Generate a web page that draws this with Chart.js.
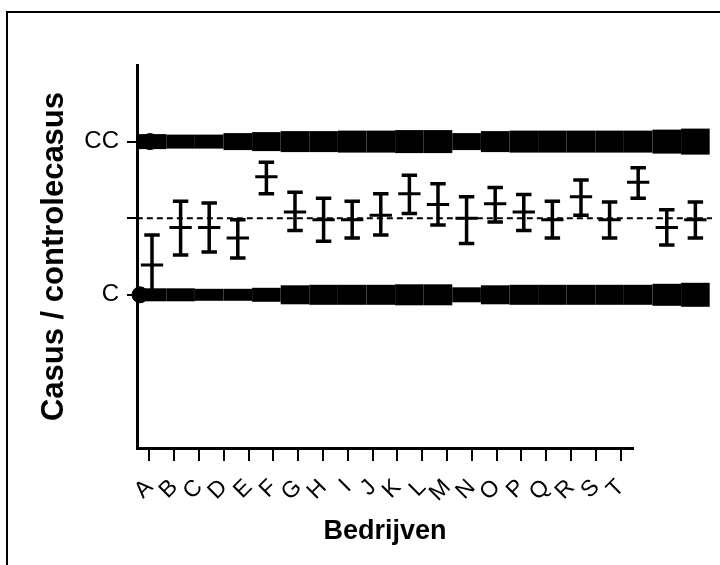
<!DOCTYPE html>
<html lang="nl">
<head>
  <meta charset="UTF-8">
  <title>Casus / controlecasus per bedrijf</title>
  <script src="https://cdn.jsdelivr.net/npm/chart.js"></script>
  <style>
    html, body { margin: 0; padding: 0; background: #fff; overflow: hidden; }
    #kader { position: absolute; left: 6px; top: 11px; width: 800px; height: 700px;
             border-left: 2px solid #000; border-top: 2px solid #000; }
    #grafiek { position: absolute; left: 0; top: 0; }
  </style>
</head>
<body>
  <div id="kader"></div>
  <canvas id="grafiek" width="720" height="565"></canvas>

  <script>
    // Bedrijven (x-as)
    const bedrijven = ['A', 'B', 'C', 'D', 'E', 'F', 'G', 'H', 'I', 'J',
                       'K', 'L', 'M', 'N', 'O', 'P', 'Q', 'R', 'S', 'T'];

    // Gemiddelde en foutbalk per bedrijf (C = 0, CC = 1)
    const gemiddelde = [0.195, 0.44, 0.44, 0.37, 0.77, 0.54, 0.49, 0.49, 0.52, 0.66,
                        0.59, 0.50, 0.595, 0.54, 0.49, 0.64, 0.49, 0.735, 0.44, 0.49];
    const ondergrens = [0.00, 0.26, 0.28, 0.24, 0.66, 0.42, 0.35, 0.37, 0.39, 0.53,
                        0.455, 0.335, 0.475, 0.42, 0.37, 0.52, 0.37, 0.63, 0.325, 0.37];
    const bovengrens = [0.39, 0.61, 0.60, 0.49, 0.866, 0.67, 0.63, 0.61, 0.66, 0.78,
                        0.725, 0.64, 0.70, 0.655, 0.61, 0.75, 0.605, 0.83, 0.555, 0.605];

    // Geschat aantal waarnemingen per bedrijf (dikte van de puntenband)
    const aantalCasus    = [110, 100, 100, 130, 150, 170, 170, 180, 180, 190,
                            190, 130, 170, 180, 180, 180, 180, 180, 200, 220];
    const aantalControle = [90, 90, 80, 80, 100, 150, 160, 160, 160, 170,
                            170, 110, 150, 160, 160, 160, 160, 160, 180, 200];

    // Losse grote punten aan het begin van de banden
    const lossePunten = [{ x: -0.07, y: 1 }, { x: -0.42, y: 0 }];

    // y-as
    const yWaarden = [0, 0.5, 1];
    const yLabels = ['C', '', 'CC'];
    const referentie = 0.5;

    Chart.defaults.font.family = "'Liberation Sans', Arial, sans-serif";
    Chart.defaults.color = '#000';

    const datasets = [];

    // puntenbanden
    function band(yWaarde, aantallen) {
      aantallen.forEach((n, i) => {
        datasets.push({
          type: 'line',
          xAxisID: 'xd',
          data: [{ x: i - 0.5, y: yWaarde }, { x: i + 0.5, y: yWaarde }],
          borderColor: '#000',
          borderWidth: 4 + n / 10,
          borderCapStyle: 'butt',
          pointRadius: 0,
          clip: false,
          order: 3
        });
      });
    }
    band(1, aantalCasus);
    band(0, aantalControle);

    datasets.push({
      type: 'line',
      xAxisID: 'xd',
      data: lossePunten,
      showLine: false,
      pointRadius: 8,
      pointBackgroundColor: '#000',
      pointBorderColor: '#000',
      clip: false,
      order: 3
    });

    // stippellijn
    datasets.push({
      type: 'line',
      xAxisID: 'xd',
      data: [{ x: -0.53, y: referentie }, { x: 19.58, y: referentie }],
      borderColor: '#000',
      borderWidth: 2,
      borderDash: [6, 4],
      pointRadius: 0,
      clip: false,
      order: 2
    });

    // foutbalken + gemiddelde
    const balken = [];
    const streepjes = [];
    bedrijven.forEach((b, i) => {
      balken.push({ x: i, y: ondergrens[i] }, { x: i, y: bovengrens[i] }, { x: i, y: null });
      balken.push({ x: i - 0.27, y: bovengrens[i] }, { x: i + 0.27, y: bovengrens[i] }, { x: i + 0.27, y: null });
      balken.push({ x: i - 0.27, y: ondergrens[i] }, { x: i + 0.27, y: ondergrens[i] }, { x: i + 0.27, y: null });
      streepjes.push({ x: i - 0.39, y: gemiddelde[i] }, { x: i + 0.39, y: gemiddelde[i] }, { x: i + 0.39, y: null });
    });
    datasets.push({
      type: 'line', xAxisID: 'xd', data: balken,
      borderColor: '#000', borderWidth: 3.5, borderCapStyle: 'butt',
      pointRadius: 0, spanGaps: false, clip: false, order: 1
    });
    datasets.push({
      type: 'line', xAxisID: 'xd', data: streepjes,
      borderColor: '#000', borderWidth: 3, borderCapStyle: 'butt',
      pointRadius: 0, spanGaps: false, clip: false, order: 1
    });

    new Chart(document.getElementById('grafiek'), {
      type: 'line',
      data: { datasets: datasets },
      options: {
        responsive: false,
        animation: false,
        devicePixelRatio: 1,
        layout: { padding: { left: 0, top: 65, right: 87, bottom: 0 } },
        plugins: { legend: { display: false }, tooltip: { enabled: false } },
        scales: {
          x: {
            type: 'category',
            labels: bedrijven,
            offset: true,
            position: 'bottom',
            grid: { drawOnChartArea: false, tickLength: 13, lineWidth: 2, color: '#000' },
            border: { width: 3, color: '#000' },
            ticks: { minRotation: 45, maxRotation: 45, autoSkip: false, padding: 13,
                     font: { size: 23 }, color: '#000' },
            title: { display: true, text: 'Bedrijven', color: '#000',
                     font: { size: 27, weight: 'bold' }, padding: { top: 0, bottom: 17 } },
            afterFit: s => { s.height = 117; }
          },
          xd: {
            type: 'linear',
            axis: 'x',
            display: false,
            bounds: 'data',
            afterDataLimits: s => { s.min = -0.5245; s.max = 16.819; }
          },
          y: {
            min: -1,
            max: 1.5,
            afterBuildTicks: s => { s.ticks = yWaarden.map(v => ({ value: v })); },
            grid: { drawOnChartArea: false, tickLength: 10, lineWidth: 2, color: '#000' },
            border: { width: 3, color: '#000' },
            ticks: {
              padding: 8,
              font: { size: 24 },
              color: '#000',
              callback: v => yLabels[yWaarden.indexOf(v)]
            },
            title: { display: true, text: 'Casus / controlecasus', color: '#000',
                     font: { size: 31, weight: 'bold' }, padding: { top: 36, bottom: 0 } },
            afterFit: s => { s.width = 137; }
          }
        }
      }
    });
  </script>
</body>
</html>
